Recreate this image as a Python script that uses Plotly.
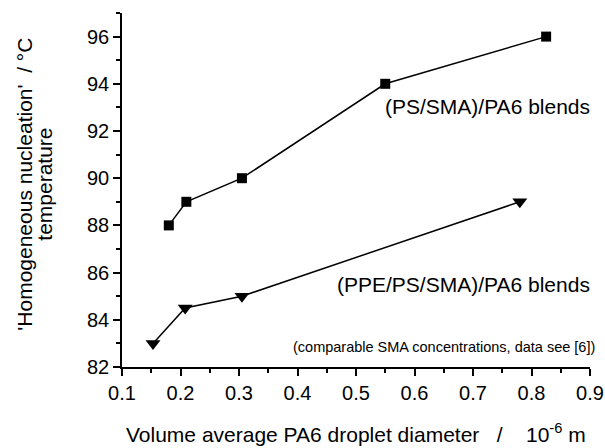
import plotly.graph_objects as go

# Data
ps_x = [0.18, 0.21, 0.305, 0.55, 0.825]
ps_y = [88, 89, 90, 94, 96]
ppe_x = [0.153, 0.208, 0.305, 0.78]
ppe_y = [83, 84.5, 85, 89]

x_ticks = [0.1, 0.2, 0.3, 0.4, 0.5, 0.6, 0.7, 0.8, 0.9]
y_ticks = [82, 84, 86, 88, 90, 92, 94, 96]

FONT = "Liberation Sans, Arial, Helvetica, sans-serif"

fig = go.Figure()
fig.add_trace(go.Scatter(
    x=ps_x, y=ps_y, mode="lines+markers",
    line=dict(color="black", width=1.5),
    marker=dict(symbol="square", size=10, color="black"),
    showlegend=False, cliponaxis=False))
fig.add_trace(go.Scatter(
    x=ppe_x, y=ppe_y, mode="lines+markers",
    line=dict(color="black", width=1.5),
    marker=dict(symbol="triangle-down", size=13, color="black"),
    showlegend=False, cliponaxis=False))

axis_common = dict(
    showline=True, linecolor="black", linewidth=1.5,
    ticks="outside", ticklen=7, tickwidth=1.5, tickcolor="black",
    showgrid=False, zeroline=False, automargin=False,
    tickfont=dict(family=FONT, size=20, color="black"),
)

fig.update_xaxes(range=[0.1, 0.9], tickvals=x_ticks,
                 ticktext=[f"{v:.1f}" for v in x_ticks],
                 minor=dict(ticks="outside", ticklen=4, tickwidth=1.5,
                            tickcolor="black", dtick=0.05, tick0=0.1),
                 **axis_common)
fig.update_yaxes(range=[82, 97], tickvals=y_ticks,
                 ticktext=[str(v) for v in y_ticks],
                 minor=dict(ticks="outside", ticklen=4, tickwidth=1.5,
                            tickcolor="black", dtick=1, tick0=82),
                 **axis_common)

annots = [
    dict(text="(PS/SMA)/PA6 blends", xref="paper", x=1.004, xanchor="right",
         yref="y", y=93.05, yanchor="middle", font=dict(size=21)),
    dict(text="(PPE/PS/SMA)/PA6 blends", xref="paper", x=1.004, xanchor="right",
         yref="y", y=85.5, yanchor="middle", font=dict(size=21)),
    dict(text="(comparable SMA concentrations, data see [6])", xref="paper",
         x=1.015, xanchor="right", yref="y", y=82.85, yanchor="middle",
         font=dict(size=14.5)),
    dict(text="Volume average PA6 droplet diameter   /    10<sup>-6</sup> m",
         xref="paper", x=0.5, xanchor="center", yref="paper", y=0,
         yshift=-66, yanchor="middle", font=dict(size=21)),
    dict(text="'Homogeneous nucleation'  / °C", textangle=-90,
         xref="paper", x=0, xshift=-97, xanchor="center",
         yref="paper", y=0.515, yanchor="middle", font=dict(size=21)),
    dict(text="temperature", textangle=-90,
         xref="paper", x=0, xshift=-77, xanchor="center",
         yref="paper", y=0.515, yanchor="middle", font=dict(size=21)),
]
for a in annots:
    a["showarrow"] = False
    a["font"] = dict(family=FONT, color="black", size=a["font"]["size"])
    fig.add_annotation(**a)

fig.update_layout(
    width=605, height=448,
    margin=dict(l=122, r=15, t=13, b=81, autoexpand=False),
    paper_bgcolor="white", plot_bgcolor="white",
    font=dict(family=FONT, color="black"),
)

fig.write_html("out.html")
